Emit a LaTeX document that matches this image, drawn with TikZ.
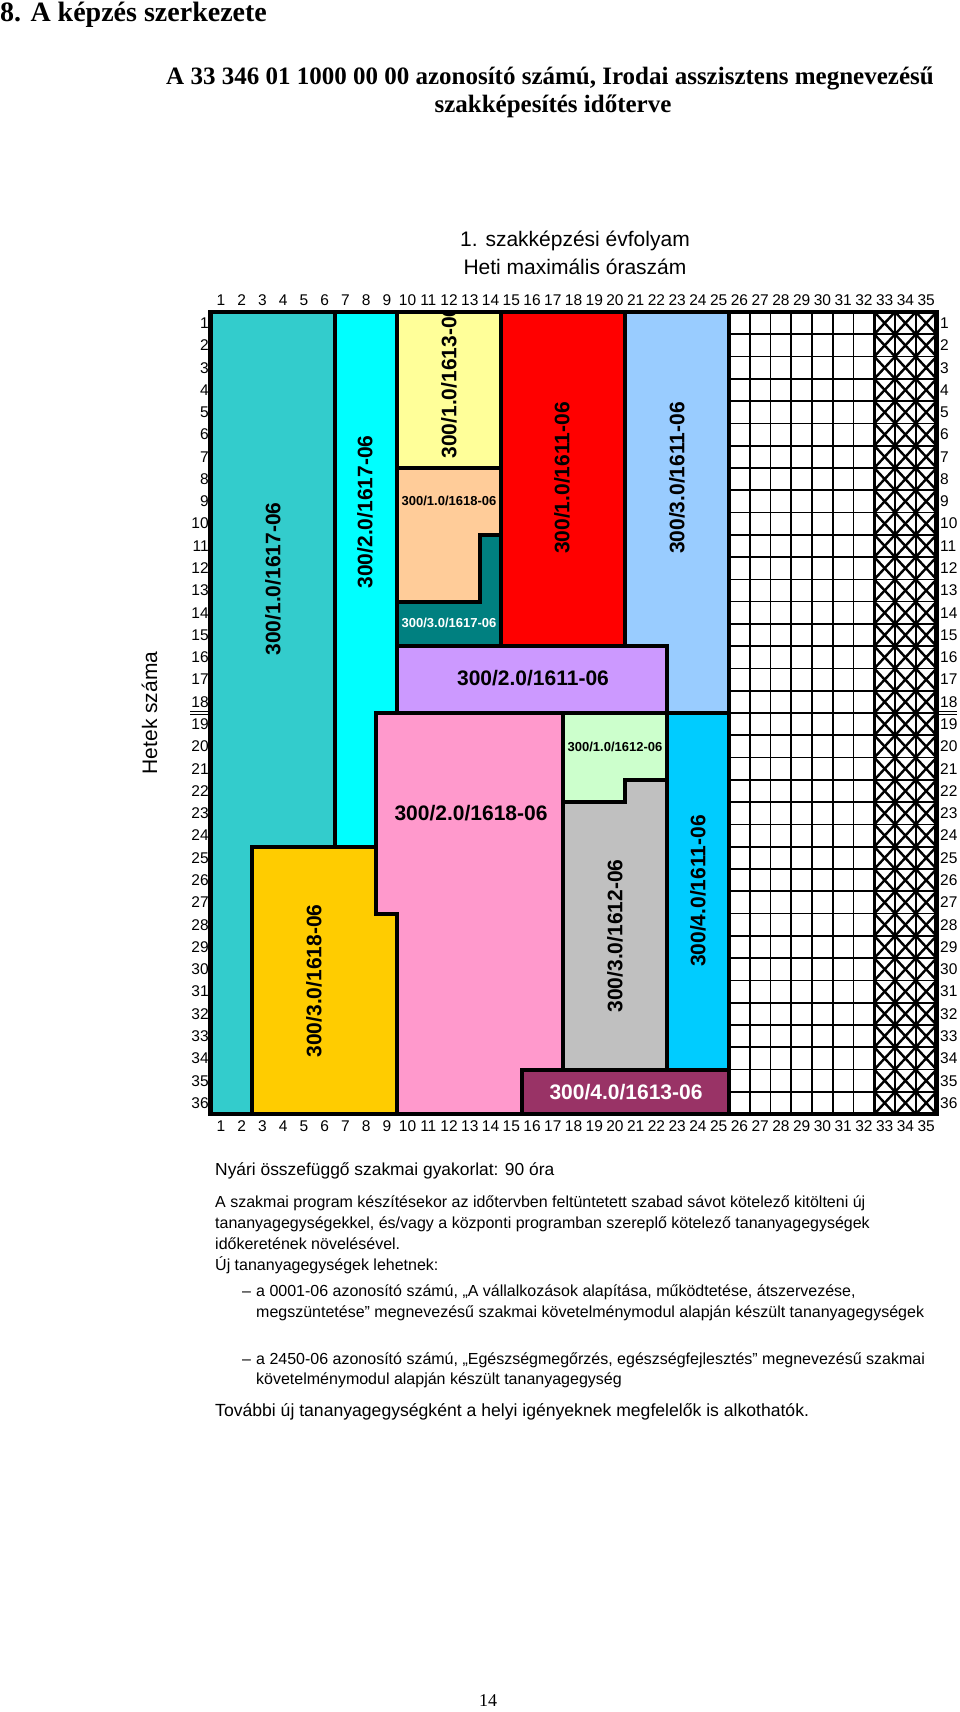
\documentclass[tikz,border=0pt]{standalone}
\usepackage{fontspec}
\setmainfont{Liberation Serif}
\setsansfont{Liberation Sans}
\usetikzlibrary{positioning}
\definecolor{cteal}{HTML}{33CCCC}
\definecolor{ccyan}{HTML}{00FFFF}
\definecolor{cyellow}{HTML}{FFFF99}
\definecolor{cpeach}{HTML}{FFCC99}
\definecolor{cdarkteal}{HTML}{008080}
\definecolor{cred}{HTML}{FF0000}
\definecolor{cltblue}{HTML}{99CCFF}
\definecolor{clavender}{HTML}{CC99FF}
\definecolor{cpink}{HTML}{FF99CC}
\definecolor{corange}{HTML}{FFCC00}
\definecolor{cgreen}{HTML}{CCFFCC}
\definecolor{cgrey}{HTML}{C0C0C0}
\definecolor{csky}{HTML}{00CCFF}
\definecolor{cplum}{HTML}{993366}

\begin{document}
\begin{tikzpicture}[x=1pt, y=-1pt,
      every node/.style={font=\sffamily, inner sep=0pt},
      block/.style={draw=black, line width=4pt, line join=miter},
      cellline/.style={line width=1.7pt},
      crossline/.style={line width=2.4pt},
      numlbl/.style={font=\sffamily\fontsize{15.5}{18}\selectfont},
      biglbl/.style={font=\sffamily\bfseries\fontsize{21}{24}\selectfont},
      smalllbl/.style={font=\sffamily\bfseries\fontsize{13}{15}\selectfont},
      bodytext/.style={font=\sffamily\fontsize{16}{19}\selectfont, anchor=base west},
    ]
    \useasboundingbox (0,0) rectangle (960,1712);
    \fill[white] (0,0) rectangle (960,1712);

    % headings
    \node[anchor=base west, font=\rmfamily\bfseries\fontsize{28}{32}\selectfont] (chapter) at (0,22) {8. A képzés szerkezete};
    \node[anchor=base, font=\rmfamily\bfseries\fontsize{25}{28}\selectfont] (title1) at (550,85) {A 33 346 01 1000 00 00 azonosító számú, Irodai asszisztens megnevezésű};
    \node[anchor=base, font=\rmfamily\bfseries\fontsize{25}{28}\selectfont] (title2) at (553,113) {szakképesítés időterve};
    \node[anchor=base, font=\sffamily\fontsize{21}{24}\selectfont] (year) at (575,247) {1. szakképzési évfolyam};
    \node[anchor=base, font=\sffamily\fontsize{21}{24}\selectfont] (hours) at (575,274) {Heti maximális óraszám};
    \node[anchor=base, rotate=90, font=\sffamily\fontsize{21}{24}\selectfont] (weeks) at (157,713) {Hetek száma};

    \begin{scope}[shift={(210.5pt,-312pt)}, x=20.743pt, y=-22.28pt]
      % free band and closed columns
      \fill[white] (25,0) rectangle (35,36);
      \foreach \c in {26,...,34} \draw[cellline] (\c,0) -- (\c,36);
      \foreach \r in {1,...,35} \draw[cellline] (25,\r) -- (35,\r);
      \foreach \c in {32,33,34} \foreach \r in {0,...,35} {
        \draw[crossline] (\c,\r) -- (\c+1,\r+1);
        \draw[crossline] (\c+1,\r) -- (\c,\r+1);
      }
      \draw[line width=2.6pt] (32,0) -- (32,36);

      % modules
      \filldraw[block, fill=cteal] (0,0) -- (6,0) -- (6,24) -- (2,24) -- (2,36) -- (0,36) -- cycle;
      \filldraw[block, fill=ccyan] (6,0) -- (9,0) -- (9,18) -- (8,18) -- (8,24) -- (6,24) -- cycle;
      \filldraw[block, fill=cyellow] (9,0) -- (14,0) -- (14,7) -- (9,7) -- cycle;
      \filldraw[block, fill=cpeach] (9,7) -- (14,7) -- (14,10) -- (13,10) -- (13,13) -- (9,13) -- cycle;
      \filldraw[block, fill=cdarkteal] (13,10) -- (14,10) -- (14,15) -- (9,15) -- (9,13) -- (13,13) -- cycle;
      \filldraw[block, fill=cred] (14,0) -- (20,0) -- (20,15) -- (14,15) -- cycle;
      \filldraw[block, fill=cltblue] (20,0) -- (25,0) -- (25,18) -- (22,18) -- (22,15) -- (20,15) -- cycle;
      \filldraw[block, fill=clavender] (9,15) -- (22,15) -- (22,18) -- (9,18) -- cycle;
      \filldraw[block, fill=cpink] (8,18) -- (17,18) -- (17,34) -- (15,34) -- (15,36) -- (9,36) -- (9,27) -- (8,27) -- cycle;
      \filldraw[block, fill=corange] (2,24) -- (8,24) -- (8,27) -- (9,27) -- (9,36) -- (2,36) -- cycle;
      \filldraw[block, fill=cgreen] (17,18) -- (22,18) -- (22,21) -- (20,21) -- (20,22) -- (17,22) -- cycle;
      \filldraw[block, fill=cgrey] (20,21) -- (22,21) -- (22,34) -- (17,34) -- (17,22) -- (20,22) -- cycle;
      \filldraw[block, fill=csky] (22,18) -- (25,18) -- (25,34) -- (22,34) -- cycle;
      \filldraw[block, fill=cplum] (15,34) -- (25,34) -- (25,36) -- (15,36) -- cycle;

      % axis numbers
      \foreach \c in {1,...,35} {
        \node[numlbl, anchor=base] (top\c) at (\c-0.5,-0.314) {\c};
        \node[numlbl, anchor=base] (bot\c) at (\c-0.5,36.80) {\c};
      }
      \foreach \r in {1,...,36} {
        \node[numlbl, anchor=east] (left\r) at (-0.08,\r-0.5) {\r};
        \node[numlbl, anchor=west] (right\r) at (35.17,\r-0.5) {\r};
      }
    \end{scope}

    % semester break marks
    \draw[line width=1pt] (190,711.5) -- (208,711.5) (190,714.8) -- (208,714.8);
    \draw[line width=1pt] (939,711.5) -- (957,711.5) (939,714.8) -- (957,714.8);

    % module labels
    \node[biglbl, rotate=90] (lblteal) at (273,579) {300/1.0/1617-06};
    \node[biglbl, rotate=90] (lblcyan) at (365,512) {300/2.0/1617-06};
    \begin{scope}
      \clip (400,314) rectangle (500,470);
      \node[biglbl, rotate=90] (lblyellow) at (449,382) {300/1.0/1613-06};
    \end{scope}
    \node[biglbl, rotate=90] (lblred) at (562,478) {300/1.0/1611-06};
    \node[biglbl, rotate=90] (lblltblue) at (677,478) {300/3.0/1611-06};
    \node[biglbl, rotate=90] (lblorange) at (314,981) {300/3.0/1618-06};
    \node[biglbl, rotate=90] (lblgrey) at (615,936) {300/3.0/1612-06};
    \node[biglbl, rotate=90] (lblsky) at (698,891) {300/4.0/1611-06};
    \node[biglbl] (lbllavender) at (533,678) {300/2.0/1611-06};
    \node[biglbl] (lblpink) at (471,813) {300/2.0/1618-06};
    \node[biglbl, text=white] (lblplum) at (626,1092) {300/4.0/1613-06};
    \node[smalllbl] (lblpeach) at (449,501) {300/1.0/1618-06};
    \node[smalllbl, text=white] (lbldarkteal) at (449,623) {300/3.0/1617-06};
    \node[smalllbl] (lblgreen) at (615,747) {300/1.0/1612-06};

    \draw[line width=4.5pt] (210.5,312) rectangle (936.5,1114);

    % notes under the plan
    \node[bodytext, font=\sffamily\fontsize{17.4}{21}\selectfont] (summer) at (215,1175) {Nyári összefüggő szakmai gyakorlat: 90 óra};
    \node[bodytext] (para1) at (215,1207) {A szakmai program készítésekor az időtervben feltüntetett szabad sávot kötelező kitölteni új};
    \node[bodytext] (para2) at (215,1228) {tananyagegységekkel, és/vagy a központi programban szereplő kötelező tananyagegységek};
    \node[bodytext] (para3) at (215,1249) {időkeretének növelésével.};
    \node[bodytext] (para4) at (215,1270) {Új tananyagegységek lehetnek:};
    \node[bodytext] (dash1) at (242,1296) {–};
    \node[bodytext] (item1a) at (256,1296) {a 0001-06 azonosító számú, „A vállalkozások alapítása, működtetése, átszervezése,};
    \node[bodytext] (item1b) at (256,1317) {megszüntetése” megnevezésű szakmai követelménymodul alapján készült tananyagegységek};
    \node[bodytext] (dash2) at (242,1364) {–};
    \node[bodytext] (item2a) at (256,1364) {a 2450-06 azonosító számú, „Egészségmegőrzés, egészségfejlesztés” megnevezésű szakmai};
    \node[bodytext] (item2b) at (256,1384) {követelménymodul alapján készült tananyagegység};
    \node[bodytext, font=\sffamily\fontsize{17.6}{21}\selectfont] (closing) at (215,1416) {További új tananyagegységként a helyi igényeknek megfelelők is alkothatók.};

    \node[anchor=base, font=\rmfamily\fontsize{18}{20}\selectfont] (pageno) at (488,1706) {14};
  \end{tikzpicture}
\end{document}
